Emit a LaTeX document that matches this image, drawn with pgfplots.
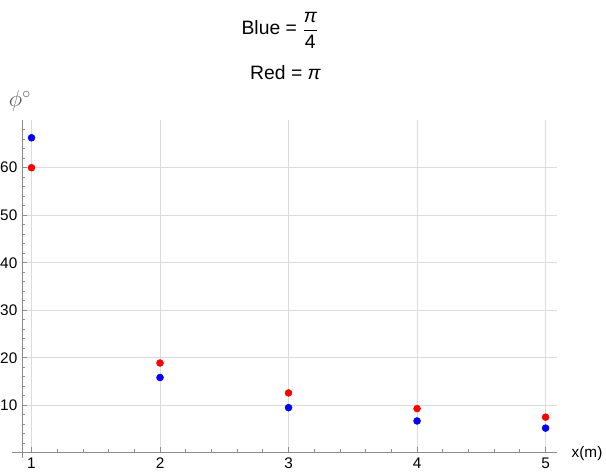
\documentclass[border=0pt]{standalone}
\usepackage{pgfplots}
\pgfplotsset{compat=1.18}
\usepackage{fontspec}
\setmainfont{Liberation Sans}

\definecolor{axisgray}{gray}{0.55}
\definecolor{gridgray}{gray}{0.86}
\definecolor{labelgray}{gray}{0.35}

\begin{document}
\begin{tikzpicture}
\begin{axis}[
    scale only axis,
    width=401.25pt, height=249.45pt,
    xmin=0.926, xmax=5.089,
    ymin=0, ymax=70,
    axis lines=left,
    axis line style={-, axisgray, line width=0.6pt},
    x axis line style={shorten <=-7.5pt},
    y axis line style={shorten <=-3.75pt},
    xtick={1,2,3,4,5},
    ytick={10,20,30,40,50,60},
    minor xtick={1.2,1.4,...,4.9},
    minor ytick={2,4,...,68},
    tick align=inside,
    major tick length=4pt,
    minor tick length=2.5pt,
    tick style={axisgray, line width=0.6pt},
    grid=major,
    major grid style={gridgray, line width=0.6pt},
    /pgf/number format/assume math mode=true,
    ticklabel style={font=\fontsize{11.5}{13}\selectfont, black},
    clip=false,
]
% red: pi
\addplot[only marks, color=red, mark=*, mark size=2.6pt, mark options={draw=red, fill=red}]
coordinates {
    (1,60.0) (2,18.9) (3,12.6) (4,9.3) (5,7.5)
};
% blue: pi/4
\addplot[only marks, color=blue, mark=*, mark size=2.6pt, mark options={draw=blue, fill=blue}]
coordinates {
    (1,66.3) (2,15.85) (3,9.5) (4,6.7) (5,5.2)
};
\end{axis}

% titles and axis labels
\node[anchor=base, font=\fontsize{14.5}{17}\selectfont]
    at (193.5pt,313.35pt) {Blue = $\displaystyle\frac{\hbox{\itshape π}}{\hbox{4}}$};
\node[anchor=base, font=\fontsize{14.5}{17}\selectfont]
    at (197.6pt,279.6pt) {Red = {\itshape π}};
\node[labelgray, font=\fontsize{17}{19}\selectfont]
    at (-1.5pt,264pt) {$\phi^{\circ}$};
\node[anchor=base west, font=\fontsize{11.5}{13}\selectfont]
    at (408.75pt,-3.15pt) {x(m)};

\pgfresetboundingbox
\path (-16.5pt,-16.65pt) rectangle ++(454.5pt,356.25pt);
\end{tikzpicture}
\end{document}
